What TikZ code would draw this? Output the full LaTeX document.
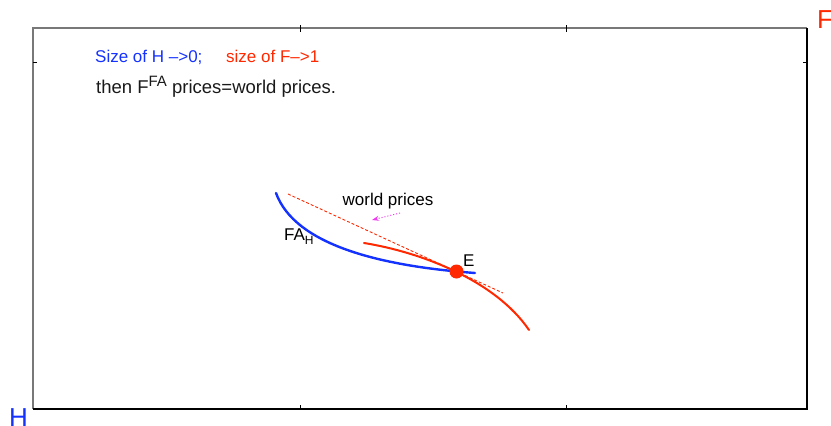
\documentclass[tikz,border=0pt]{standalone}
\usepackage{fontspec}
\setmainfont{Liberation Sans}
\usetikzlibrary{arrows.meta}
\definecolor{hblue}{RGB}{20,50,255}
\definecolor{fred}{RGB}{255,40,0}
\definecolor{pinkm}{RGB}{240,60,240}
\definecolor{framegray}{RGB}{120,120,120}
\tikzset{
  lbl/.style={inner sep=0pt, font=\fontsize{17}{20}\selectfont},
  biglbl/.style={inner sep=0pt, font=\fontsize{26}{30}\selectfont},
  tickline/.style={line width=1pt, black},
  bluecurve/.style={hblue, line width=2.4pt, line cap=round},
  redcurve/.style={fred, line width=2pt, line cap=round},
  worldline/.style={fred, line width=0.9pt, dash pattern=on 3pt off 2pt},
  hint/.style={pinkm, line width=1pt, dotted, -{Stealth[open,length=7pt,width=5pt]}},
}
\begin{document}
\begin{tikzpicture}[x=1pt,y=-1pt]
\useasboundingbox (0,0) rectangle (831,426);
% frame
\draw[framegray, line width=1.1pt] (33,409) -- (33,28) -- (807,28);
\draw[black, line width=1.1pt] (807,28) -- (807,409) -- (33,409);
% ticks
\foreach \x in {300,566} {
  \draw[tickline] (\x,25) -- (\x,32);
  \draw[tickline] (\x,405) -- (\x,409);
}
\draw[tickline] (33,62) -- (37,62);
\draw[tickline] (807,62) -- (803,62);
% corner labels
\node[biglbl, text=fred, anchor=base west] (F) at (817,28) {F};
\node[biglbl, text=hblue, anchor=base west] (H) at (9,426) {H};
% headline texts
\node[lbl, text=hblue, anchor=base west] (t1) at (95,62.5) {Size of H –>0;};
\node[lbl, text=fred, anchor=base west] (t2) at (226,62.5) {size of F–>1};
\node[lbl, font=\fontsize{18.5}{21}\selectfont, text=black!90, anchor=base west] (t3) at (96,93.5)
  {then F\raisebox{7.5pt}{\fontsize{15}{17}\selectfont FA} prices=world prices.};
% world price line
\coordinate (w1) at (288,194);
\coordinate (w2) at (503,293);
\draw[worldline] (w1) -- (w2);
% FA_H offer curve
\coordinate (b1) at (276,193);
\coordinate (b2) at (475,273);
\draw[bluecurve] (b1) .. controls (295,245) and (380,266) .. (b2);
% F offer curve
\coordinate (r1) at (364,243);
\coordinate (r2) at (529,330);
\draw[redcurve] (r1) .. controls (420,252) and (495,280) .. (r2);
% equilibrium
\fill[fred] (456.5,271.5) circle (7pt);
\node[lbl, anchor=base west] (E) at (463,266) {E};
\node[lbl, anchor=base west] (FAH) at (284,240.5) {FA\raisebox{-4pt}{\fontsize{12}{14}\selectfont H}};
\node[lbl, anchor=base] (wp) at (388,205) {world prices};
\coordinate (h1) at (400,213);
\coordinate (h2) at (372,220);
\draw[hint] (h1) -- (h2);
\end{tikzpicture}
\end{document}
